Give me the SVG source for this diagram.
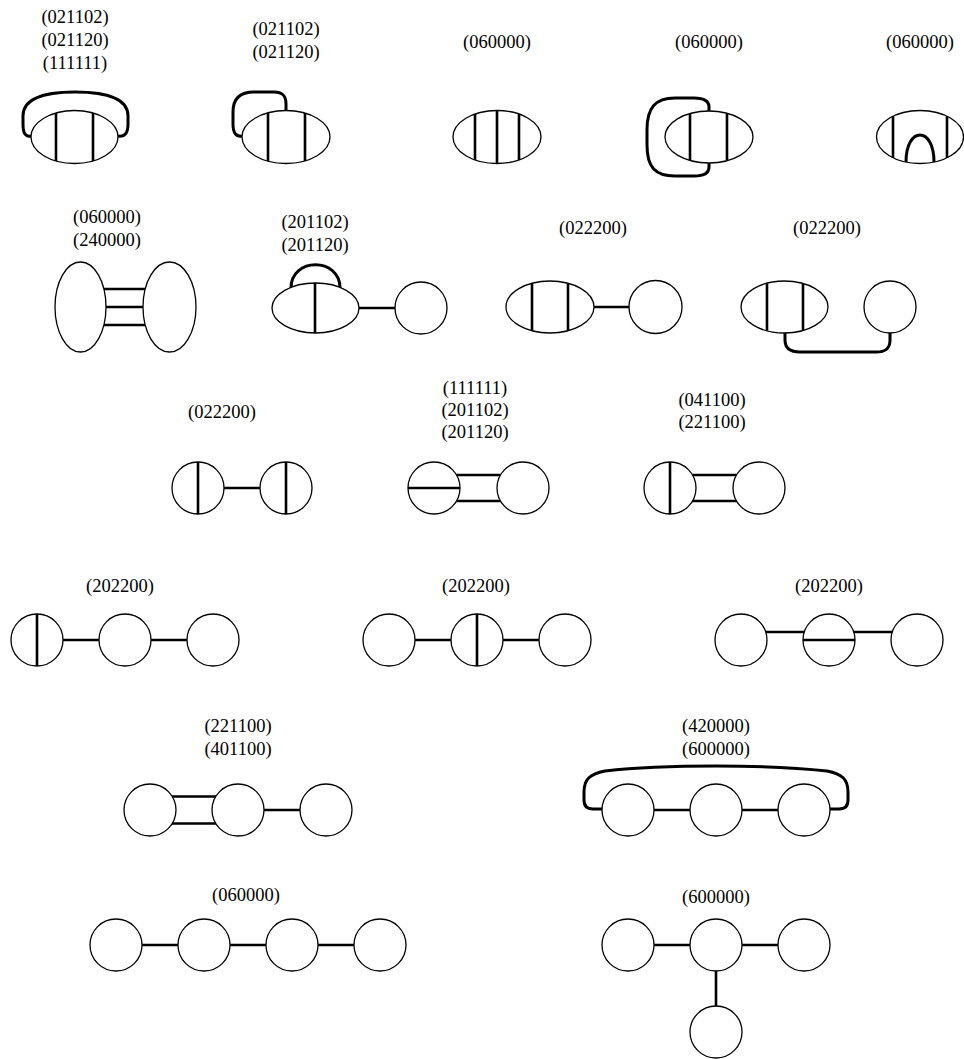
<svg xmlns="http://www.w3.org/2000/svg" width="964" height="1059" viewBox="0 0 964 1059">
<style>
.o{fill:#fff;stroke:#000;stroke-width:1.3}
.c{fill:none;stroke:#000;stroke-width:2.6}
.e{fill:none;stroke:#000;stroke-width:2.6;stroke-linecap:butt}
.l{fill:none;stroke:#000;stroke-width:3;stroke-linejoin:round}
.t{font-family:'Liberation Serif','Times New Roman',serif;font-size:18.5px;text-anchor:middle;fill:#000}
</style>
<rect width="964" height="1059" fill="#fff"/>
<g id="labels" class="t" font-family="Liberation Serif, Times New Roman, serif" font-size="18.5" text-anchor="middle">
<text x="75" y="23">(021102)</text><text x="75" y="46">(021120)</text><text x="75" y="69">(111111)</text>
<text x="286" y="35">(021102)</text><text x="286" y="58">(021120)</text>
<text x="497" y="48">(060000)</text>
<text x="709" y="48">(060000)</text>
<text x="920" y="48">(060000)</text>
<text x="107" y="223">(060000)</text><text x="107" y="246">(240000)</text>
<text x="315" y="228">(201102)</text><text x="315" y="251">(201120)</text>
<text x="593" y="234">(022200)</text>
<text x="827" y="234">(022200)</text>
<text x="222" y="418">(022200)</text>
<text x="475" y="394">(111111)</text><text x="475" y="416">(201102)</text><text x="475" y="438">(201120)</text>
<text x="712" y="406">(041100)</text><text x="712" y="428">(221100)</text>
<text x="120" y="592">(202200)</text>
<text x="476" y="592">(202200)</text>
<text x="829" y="592">(202200)</text>
<text x="238" y="732">(221100)</text><text x="238" y="755">(401100)</text>
<text x="716" y="732">(420000)</text><text x="716" y="755">(600000)</text>
<text x="246" y="901">(060000)</text>
<text x="716" y="903">(600000)</text>
</g>
<g id="connectors">
<path class="l" d="M31,136 C25,137 23,133 23,124 L23,116 C23,100 40,92 75,92 C110,92 128,100 128,116 L128,124 C128,133 125,137 118,136"/>
<path class="l" d="M242,136 C236,137 233,133 233,124 L233,112 C233,99 240,92 254,92 L274,92 C283,92 286,96 286,104 L286,111"/>
<path class="l" d="M709,111 L709,107 C709,101 704,98 694,98 L675,98 C655,98 647,108 647,130 L647,145 C647,167 655,176 675,176 L694,176 C704,176 709,173 709,167 L709,163"/>
<path class="c" d="M104,289 L145,289 M106,307 L143,307 M104,325 L145,325"/>
<path class="l" d="M291,288 C291,257 340,257 340,288"/>
<path class="c" d="M359,308 L395,308"/>
<path class="c" d="M594,307 L629,307"/>
<path class="l" d="M785,333 L785,340 C785,348 790,352 800,352 L876,352 C886,352 890,348 890,340 L890,333"/>
<path class="c" d="M224,488 L260,488"/>
<path class="c" d="M456.5,475 L500.5,475 M456.5,501 L500.5,501"/>
<path class="c" d="M692.5,475 L736.5,475 M692.5,501 L736.5,501"/>
<path class="c" d="M63,640 L99,640 M151,640 L187,640"/>
<path class="c" d="M415,640 L451,640 M503,640 L539,640"/>
<path class="c" d="M765,632 L805,632 M853,632 L893,632"/>
<path class="c" d="M172,796.5 L216,796.5 M172,823.5 L216,823.5 M264,810 L300,810"/>
<path class="c" d="M654,810 L690,810 M742,810 L778,810"/>
<path class="l" d="M602,809 L593,809 C587,809 584,806 584,800 L584,792 C584,779 590,774 605,771 C640,767 680,766 716,766 C752,766 792,767 827,771 C842,774 848,779 848,792 L848,800 C848,806 845,809 839,809 L830,809"/>
<path class="c" d="M142,945 L178,945 M230,945 L266,945 M318,945 L354,945"/>
<path class="c" d="M654,945 L690,945 M742,945 L778,945 M716,971 L716,1006"/>
</g>
<g id="n1"><ellipse class="o" cx="74.5" cy="137" rx="43.5" ry="26.5"/><path class="e" d="M56,113 L56,161 M93,113 L93,161"/></g>
<g id="n2"><ellipse class="o" cx="286" cy="137" rx="44" ry="26.5"/><path class="e" d="M268,113 L268,161 M305,113 L305,161"/></g>
<g id="n3"><ellipse class="o" cx="497" cy="137" rx="44" ry="26.5"/><path class="e" d="M475,114 L475,160 M497,110.5 L497,163.5 M519,114 L519,160"/></g>
<g id="n4"><ellipse class="o" cx="709" cy="137" rx="44" ry="26"/><path class="e" d="M690,113.6 L690,160.4 M727,113.6 L727,160.4"/></g>
<g id="n5"><ellipse class="o" cx="920" cy="137" rx="43.5" ry="26.5"/><path class="e" d="M893,116 L893,158 M947,116 L947,158"/><path class="l" d="M906,162 C906,126 934,126 934,162"/></g>
<g id="n6a"><ellipse class="o" cx="80.5" cy="307" rx="25.5" ry="45"/></g>
<g id="n6b"><ellipse class="o" cx="169.5" cy="307" rx="26.5" ry="45"/></g>
<g id="n7a"><ellipse class="o" cx="315.5" cy="308" rx="43.5" ry="25"/><path class="e" d="M315,283 L315,333"/></g>
<g id="n7b"><circle class="o" cx="421" cy="308" r="26"/></g>
<g id="n8a"><ellipse class="o" cx="550" cy="307" rx="44" ry="26"/><path class="e" d="M532,283.3 L532,330.7 M568,283.3 L568,330.7"/></g>
<g id="n8b"><circle class="o" cx="655.5" cy="307" r="26.5"/></g>
<g id="n9a"><ellipse class="o" cx="784.5" cy="307" rx="43.5" ry="26"/><path class="e" d="M767,283.2 L767,330.8 M803,283.5 L803,330.5"/></g>
<g id="n9b"><circle class="o" cx="890" cy="307" r="26"/></g>
<g id="n10a"><circle class="o" cx="198" cy="488" r="26"/><path class="e" d="M198,462 L198,514"/></g>
<g id="n10b"><circle class="o" cx="286" cy="488" r="26"/><path class="e" d="M286,462 L286,514"/></g>
<g id="n11a"><circle class="o" cx="434" cy="488" r="26"/><path class="e" d="M408,488 L460,488"/></g>
<g id="n11b"><circle class="o" cx="523" cy="488" r="26"/></g>
<g id="n12a"><circle class="o" cx="670" cy="488" r="26"/><path class="e" d="M670,462 L670,514"/></g>
<g id="n12b"><circle class="o" cx="759" cy="488" r="26"/></g>
<g id="n13a"><circle class="o" cx="37" cy="640" r="26"/><path class="e" d="M37,614 L37,666"/></g>
<g id="n13b"><circle class="o" cx="125" cy="640" r="26"/></g>
<g id="n13c"><circle class="o" cx="213" cy="640" r="26"/></g>
<g id="n14a"><circle class="o" cx="389" cy="640" r="26"/></g>
<g id="n14b"><circle class="o" cx="477" cy="640" r="26"/><path class="e" d="M477,614 L477,666"/></g>
<g id="n14c"><circle class="o" cx="565" cy="640" r="26"/></g>
<g id="n15a"><circle class="o" cx="741" cy="640" r="26"/></g>
<g id="n15b"><circle class="o" cx="829" cy="640" r="26"/><path class="e" d="M803,640 L855,640"/></g>
<g id="n15c"><circle class="o" cx="917" cy="640" r="26"/></g>
<g id="n16a"><circle class="o" cx="150" cy="810" r="26"/></g>
<g id="n16b"><circle class="o" cx="238" cy="810" r="26"/></g>
<g id="n16c"><circle class="o" cx="326" cy="810" r="26"/></g>
<g id="n17a"><circle class="o" cx="628" cy="810" r="26"/></g>
<g id="n17b"><circle class="o" cx="716" cy="810" r="26"/></g>
<g id="n17c"><circle class="o" cx="804" cy="810" r="26"/></g>
<g id="n18a"><circle class="o" cx="116" cy="945" r="26"/></g>
<g id="n18b"><circle class="o" cx="204" cy="945" r="26"/></g>
<g id="n18c"><circle class="o" cx="292" cy="945" r="26"/></g>
<g id="n18d"><circle class="o" cx="380" cy="945" r="26"/></g>
<g id="n19a"><circle class="o" cx="628" cy="945" r="26"/></g>
<g id="n19b"><circle class="o" cx="716" cy="945" r="26"/></g>
<g id="n19c"><circle class="o" cx="804" cy="945" r="26"/></g>
<g id="n19d"><circle class="o" cx="716" cy="1032" r="26"/></g>
</svg>
